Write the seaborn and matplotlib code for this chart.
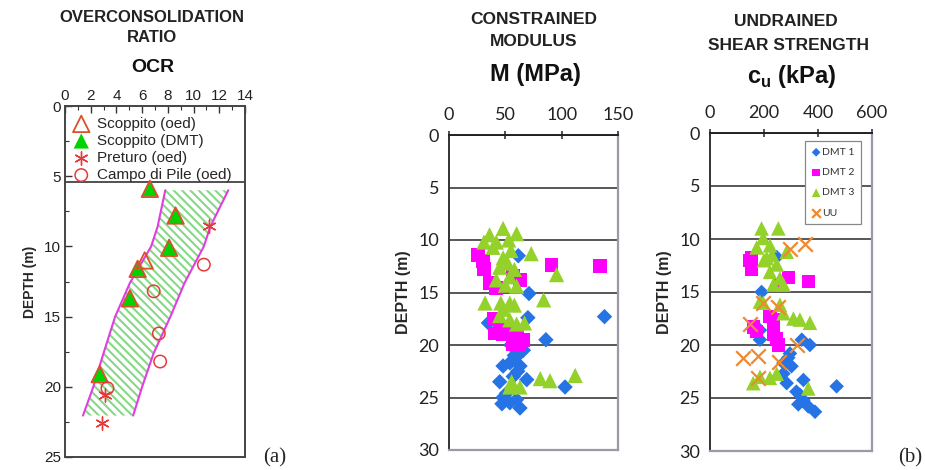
import numpy as np
import pandas as pd
import matplotlib
matplotlib.use("Agg")
import matplotlib.pyplot as plt
import seaborn as sns

# ---------------- data: panel (a) OCR ----------------
scop_oed_ocr = [6.6, 8.6, 8.1, 6.2, 5.65, 5.05, 2.7]
scop_oed_z = [5.9, 7.8, 10.1, 11.0, 11.6, 13.7, 19.1]
scop_dmt_ocr = [6.6, 8.6, 8.1, 5.65, 5.05, 2.7]
scop_dmt_z = [5.9, 7.8, 10.1, 11.6, 13.7, 19.1]
pret_ocr = [11.2, 3.1, 2.9]
pret_z = [8.55, 20.6, 22.6]
campo_ocr = [10.8, 6.9, 7.3, 7.4, 3.3]
campo_z = [11.3, 13.2, 16.2, 18.2, 20.1]
band_z = [6.0, 8.6, 10.0, 12.6, 15.0, 17.6, 20.0, 22.05]
band_lo = [7.8, 7.2, 6.7, 5.05, 3.9, 3.0, 2.2, 1.4]
band_hi = [12.7, 11.3, 10.8, 9.3, 8.2, 6.9, 6.0, 5.3]
ocr_ticks = [0, 2, 4, 6, 8, 10, 12, 14]
depth_ticks_a = [0, 5, 10, 15, 20, 25]

# ---------------- data: panel (b) constrained modulus M (MPa) ----------------
m_dmt1 = [61.5, 71, 138, 35, 70, 86, 66, 60, 54, 48, 63, 61, 69, 45, 103, 51, 48, 60, 47, 54, 63, 57, 55, 58]
z_m_dmt1 = [11.5, 15.1, 17.3, 17.9, 17.4, 19.5, 20.5, 21.1, 21.7, 22.0, 22.0, 22.5, 23.3, 23.5, 24.0, 24.6, 25.0, 25.2, 25.6, 25.5, 26.0, 23.0, 20.0, 21.0]
m_dmt2 = [26, 30, 31, 91, 134, 36, 42, 57, 63, 41, 45, 51, 60, 66, 57, 48, 40, 62]
z_m_dmt2 = [11.4, 12.0, 12.8, 12.4, 12.5, 14.1, 14.6, 13.4, 13.8, 18.9, 18.4, 18.7, 19.2, 19.5, 19.9, 19.0, 17.5, 20.0]
m_dmt3 = [48, 60, 36, 31, 42, 53, 39, 73, 48, 55, 45, 52, 58, 95.5, 54, 42, 50, 60, 32, 46, 54, 58, 84, 48, 54, 67, 60, 45, 81, 89.6, 112, 55.6, 63, 54]
z_m_dmt3 = [8.9, 9.4, 9.5, 10.2, 10.2, 10.0, 10.7, 11.3, 11.7, 11.0, 12.6, 12.2, 12.8, 13.3, 13.5, 13.8, 14.3, 14.4, 16.0, 16.0, 16.0, 16.2, 15.7, 16.6, 17.6, 17.9, 18.0, 17.2, 23.2, 23.4, 22.9, 23.5, 24.0, 24.0]
m_ticks = [0, 50, 100, 150]

# ---------------- data: panel (c) undrained shear strength cu (kPa) ----------------
cu_dmt1 = [247, 191, 185, 185, 340, 370, 296, 272, 302, 272, 284, 346, 469, 333, 346, 327, 364, 389, 290, 320]
z_cu_dmt1 = [11.7, 15.0, 18.6, 19.5, 19.5, 20.0, 20.8, 21.7, 22.0, 22.7, 23.6, 23.3, 23.9, 24.7, 25.2, 25.6, 25.8, 26.3, 21.2, 24.4]
cu_dmt2 = [154, 154, 148, 154, 290, 364, 173, 235, 247, 253, 235, 222, 235, 160, 260]
z_cu_dmt2 = [11.8, 12.4, 12.0, 12.9, 13.6, 14.0, 18.7, 17.9, 19.4, 20.0, 19.0, 17.3, 17.6, 18.3, 14.4]
cu_dmt3 = [191, 253, 197, 222, 173, 284, 210, 247, 222, 259, 235, 272, 185, 197, 259, 272, 309, 333, 370, 185, 222, 247, 160, 364, 200, 230]
z_cu_dmt3 = [9.0, 9.0, 9.9, 10.6, 10.8, 11.2, 11.8, 12.4, 13.1, 13.7, 14.3, 14.3, 15.9, 16.0, 16.2, 17.0, 17.5, 17.6, 17.9, 23.0, 23.1, 22.7, 23.6, 24.1, 12.0, 11.5]
cu_uu = [296, 352, 197, 253, 148, 324, 123, 176, 256, 176]
z_cu_uu = [10.9, 10.5, 16.0, 16.4, 18.0, 20.0, 21.2, 21.0, 21.6, 23.1]
cu_ticks = [0, 200, 400, 600]
depth_ticks_bc = [0, 5, 10, 15, 20, 25, 30]

# ---------------- style ----------------
sns.set_style("white")
plt.rcParams["font.family"] = ["Liberation Sans", "DejaVu Sans"]
plt.rcParams["mathtext.fontset"] = "custom"
plt.rcParams["mathtext.rm"] = "Liberation Sans"
plt.rcParams["mathtext.bf"] = "Liberation Sans:bold"
plt.rcParams["hatch.linewidth"] = 1.5

W, H = 925, 470
fig = plt.figure(figsize=(W / 100, H / 100), dpi=100)


def ax_at(x0, y0, x1, y1):
    return fig.add_axes([x0 / W, 1 - y1 / H, (x1 - x0) / W, (y1 - y0) / H])


RED = "#E8393A"
GREEN_A = "#00D400"
MAG_LINE = "#E23CE2"
HATCH = "#86D886"
BLUE = "#2673E6"
MAGENTA = "#FF00FF"
LIME = "#94D12A"
ORANGE = "#F0882E"

# ================= panel (a) =================
axa = ax_at(65, 106, 245, 457)
axa.fill_betweenx(band_z, band_lo, band_hi, facecolor="none", edgecolor=HATCH,
                  hatch="\\\\\\\\", linewidth=0)
band_df = pd.DataFrame({"z": band_z, "lo": band_lo, "hi": band_hi})
sns.lineplot(data=band_df, x="lo", y="z", sort=False, estimator=None, color=MAG_LINE,
             lw=1.5, ax=axa, orient="y")
sns.lineplot(data=band_df, x="hi", y="z", sort=False, estimator=None, color=MAG_LINE,
             lw=1.5, ax=axa, orient="y")

sns.scatterplot(x=scop_dmt_ocr, y=scop_dmt_z, marker="^", s=120, color=GREEN_A,
                edgecolor="none", ax=axa, label="Scoppito (DMT)", zorder=3)
sns.scatterplot(x=scop_oed_ocr, y=scop_oed_z, marker="^", s=140, facecolor="none",
                edgecolor="#D9502A", linewidth=1.3, ax=axa, label="Scoppito (oed)", zorder=4)
sns.scatterplot(x=pret_ocr, y=pret_z, marker=(6, 2, 0), s=90, color=RED,
                linewidth=1.0, ax=axa, label="Preturo (oed)", zorder=4)
sns.scatterplot(x=campo_ocr, y=campo_z, marker="o", s=80, facecolor="none",
                edgecolor=RED, linewidth=1.1, ax=axa, label="Campo di Pile (oed)", zorder=4)

axa.axhline(5.4, color="#333333", lw=1.2)
axa.set_xlim(0, 14)
axa.set_ylim(25, 0)
axa.set_xticks(ocr_ticks)
axa.set_xticks(np.arange(0, 15, 1), minor=True)
axa.set_yticks(depth_ticks_a)
axa.set_yticks(np.arange(0, 26, 2.5), minor=True)
axa.xaxis.tick_top()
axa.tick_params(axis="both", which="major", direction="in", length=5, width=1,
                labelsize=11, colors="#333333", labelcolor="#222222")
axa.tick_params(axis="both", which="minor", direction="in", length=3, width=0.8,
                colors="#333333")
axa.tick_params(axis="x", which="both", top=True, bottom=False, pad=2)
axa.tick_params(axis="y", which="both", left=True, right=False, pad=3)
for sp in axa.spines.values():
    sp.set_color("#444444")
    sp.set_linewidth(1.4)
axa.set_xlabel("")
axa.set_ylabel("DEPTH (m)", fontsize=10, fontweight="bold", labelpad=5)

handles, labels = axa.get_legend_handles_labels()
order = [labels.index(l) for l in ["Scoppito (oed)", "Scoppito (DMT)", "Preturo (oed)",
                                   "Campo di Pile (oed)"]]
axa.legend([handles[i] for i in order], [labels[i] for i in order], loc="upper left",
           bbox_to_anchor=(-0.02, 0.995), frameon=False, fontsize=11, handletextpad=0.3,
           labelspacing=0.2, borderaxespad=0.2, handlelength=1.4)

fig.text(152 / W, 1 - 18 / H, "OVERCONSOLIDATION", ha="center", va="center",
         fontsize=12, fontweight="bold", color="#222222")
fig.text(152 / W, 1 - 38 / H, "RATIO", ha="center", va="center",
         fontsize=12, fontweight="bold", color="#222222")
fig.text(153 / W, 1 - 67 / H, "OCR", ha="center", va="center",
         fontsize=14, fontweight="bold", color="#111111")
fig.text(275 / W, 1 - 458 / H, "(a)", ha="center", va="center", fontsize=15,
         family=["Liberation Serif", "DejaVu Serif"])


def style_bc(ax, xticks, xlim):
    ax.set_xlim(*xlim)
    ax.set_ylim(30, 0)
    ax.set_xticks(xticks)
    ax.set_yticks(depth_ticks_bc)
    ax.xaxis.tick_top()
    ax.yaxis.grid(True, color="#4a4a4a", lw=1.3)
    ax.xaxis.grid(False)
    ax.set_axisbelow(True)
    ax.tick_params(axis="x", direction="inout", length=6, width=1.2, pad=6,
                   labelsize=13, colors="#333333", labelcolor="#222222")
    ax.tick_params(axis="y", direction="inout", length=6, width=1.2, pad=4,
                   labelsize=13, colors="#333333", labelcolor="#222222")
    for lab in ax.get_xticklabels() + ax.get_yticklabels():
        lab.set_family(["Lato", "DejaVu Sans"])
    ax.spines["top"].set_color("#222222")
    ax.spines["top"].set_linewidth(1.4)
    ax.spines["left"].set_color("#333333")
    ax.spines["left"].set_linewidth(1.4)
    ax.spines["right"].set_color("#9a9aa6")
    ax.spines["right"].set_linewidth(1.6)
    ax.spines["bottom"].set_color("#9a9aa6")
    ax.spines["bottom"].set_linewidth(1.6)
    ax.set_xlabel("")
    ax.set_ylabel("DEPTH (m)", fontsize=11.5, fontweight="bold", labelpad=5)


# ================= panel (b) =================
axb = ax_at(449, 135, 618, 450)
sns.scatterplot(x=m_dmt1, y=z_m_dmt1, marker="D", s=62, color=BLUE, edgecolor="none",
                ax=axb, label="DMT 1", zorder=3)
sns.scatterplot(x=m_dmt2, y=z_m_dmt2, marker="s", s=100, color=MAGENTA, edgecolor="none",
                ax=axb, label="DMT 2", zorder=3)
sns.scatterplot(x=m_dmt3, y=z_m_dmt3, marker="^", s=120, color=LIME, edgecolor="none",
                ax=axb, label="DMT 3", zorder=3)
axb.get_legend().remove()
style_bc(axb, m_ticks, (0, 150))

fig.text(534 / W, 1 - 20 / H, "CONSTRAINED", ha="center", va="center",
         fontsize=12.5, fontweight="bold", color="#222222")
fig.text(534 / W, 1 - 41 / H, "MODULUS", ha="center", va="center",
         fontsize=12.5, fontweight="bold", color="#222222")
fig.text(535 / W, 1 - 75 / H, "M (MPa)", ha="center", va="center",
         fontsize=17, fontweight="bold", color="#111111")

# ================= panel (c) =================
axc = ax_at(710, 133, 872, 451)
sns.scatterplot(x=cu_dmt1, y=z_cu_dmt1, marker="D", s=55, color=BLUE, edgecolor="none",
                ax=axc, label="DMT 1", zorder=3)
sns.scatterplot(x=cu_dmt2, y=z_cu_dmt2, marker="s", s=90, color=MAGENTA, edgecolor="none",
                ax=axc, label="DMT 2", zorder=3)
sns.scatterplot(x=cu_dmt3, y=z_cu_dmt3, marker="^", s=110, color=LIME, edgecolor="none",
                ax=axc, label="DMT 3", zorder=3)
sns.scatterplot(x=cu_uu, y=z_cu_uu, marker="x", s=110, color=ORANGE, linewidth=1.6,
                ax=axc, label="UU", zorder=4)
style_bc(axc, cu_ticks, (0, 600))
leg = axc.legend(loc="upper right", bbox_to_anchor=(0.945, 0.98), fontsize=7.5,
                 frameon=True, fancybox=False, edgecolor="#888888", framealpha=1,
                 markerscale=0.6, handletextpad=0.1, handlelength=1.0,
                 labelspacing=1.05, borderpad=0.6, borderaxespad=0.2)
leg.get_frame().set_linewidth(0.9)
for t in leg.get_texts():
    t.set_family(["Lato", "DejaVu Sans"])
    t.set_color("#333333")

fig.text(786 / W, 1 - 22 / H, "UNDRAINED", ha="center", va="center",
         fontsize=12.5, fontweight="bold", color="#222222")
fig.text(789 / W, 1 - 45 / H, "SHEAR STRENGTH", ha="center", va="center",
         fontsize=12.5, fontweight="bold", color="#222222")
fig.text(792 / W, 1 - 76 / H, r"c$_{\mathbf{u}}$ (kPa)", ha="center", va="center",
         fontsize=17, fontweight="bold", color="#111111")
fig.text(910 / W, 1 - 458 / H, "(b)", ha="center", va="center", fontsize=15,
         family=["Liberation Serif", "DejaVu Serif"])

fig.savefig("out.png", dpi=100)
